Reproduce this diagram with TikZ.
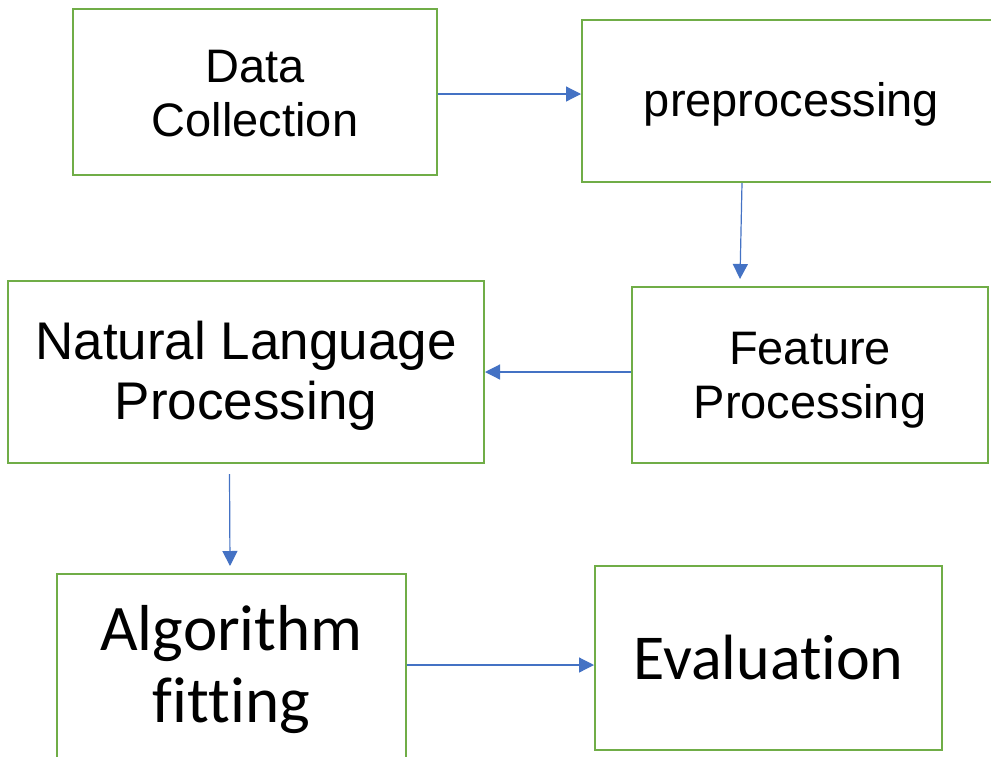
\documentclass[tikz,border=0pt]{standalone}
\usepackage{fontspec}
\setmainfont{Liberation Sans}
\newfontfamily\calfont[Ligatures=NoCommon]{Carlito}
\usetikzlibrary{arrows.meta,calc}
\definecolor{boxgreen}{HTML}{70AD47}
\definecolor{arrowblue}{HTML}{4472C4}
\begin{document}
\begin{tikzpicture}[x=1pt,y=1pt,
  stage/.style={draw=boxgreen, line width=2pt, fill=white, inner sep=0pt},
  stagetext/.style={inner sep=0pt, align=center, text=black},
  sans/.style={font=\fontsize{47pt}{54pt}\selectfont},
  sanslarge/.style={font=\fontsize{53pt}{60pt}\selectfont},
  cal/.style={font=\calfont\fontsize{65pt}{72pt}\selectfont},
  flow/.style={draw=arrowblue, line width=1.2pt,
    -{Triangle[length=15pt,width=15pt]}}]
  \clip (0,0) rectangle (991,-756);
  \fill[white] (0,0) rectangle (991,-756);

  % stages of the pipeline
  \node[stage, minimum width=364pt, minimum height=166pt] (dc) at (255,-92) {};
  \node[stage, minimum width=419pt, minimum height=162pt] (pre) at (791.5,-101) {};
  \node[stage, minimum width=476pt, minimum height=182pt] (nlp) at (246,-372) {};
  \node[stage, minimum width=356pt, minimum height=176pt] (fp) at (810,-375) {};
  \node[stage, minimum width=349pt, minimum height=196pt] (alg) at (231.5,-672) {};
  \node[stage, minimum width=347pt, minimum height=184pt] (ev) at (768.5,-658) {};

  % their captions
  \node[stagetext, sans, yshift=-2pt] (dcText) at (dc.center) {Data\\Collection};
  \node[stagetext, sans, yshift=-3pt] (preText) at (pre.center) {preprocessing};
  \node[stagetext, sanslarge, yshift=-4pt] (nlpText) at (nlp.center) {Natural Language\\Processing};
  \node[stagetext, sans, yshift=-5pt] (fpText) at (fp.center) {Feature\\Processing};
  \node[stagetext, cal, yshift=2pt] (algText) at (alg.center) {Algorithm\\fitting};
  \node[stagetext, cal, font=\calfont\fontsize{64pt}{72pt}\selectfont] (evText) at (ev.center) {Evaluation};

  % connectors
  \draw[flow] ([yshift=-2pt]dc.east) -- ([yshift=-2pt]dc.east -| pre.west);
  \draw[flow] ([xshift=-49.5pt]pre.south) -- ([xshift=-70pt,yshift=7pt]fp.north);
  \draw[flow] (fp.west |- nlp.east) -- (nlp.east);
  \draw[flow] ([xshift=-2pt,yshift=-10pt]nlp.south -| alg.north) -- ([xshift=-1.5pt,yshift=7pt]alg.north);
  \draw[flow] ([yshift=7pt]alg.east) -- ([yshift=7pt]alg.east -| ev.west);
\end{tikzpicture}
\end{document}
